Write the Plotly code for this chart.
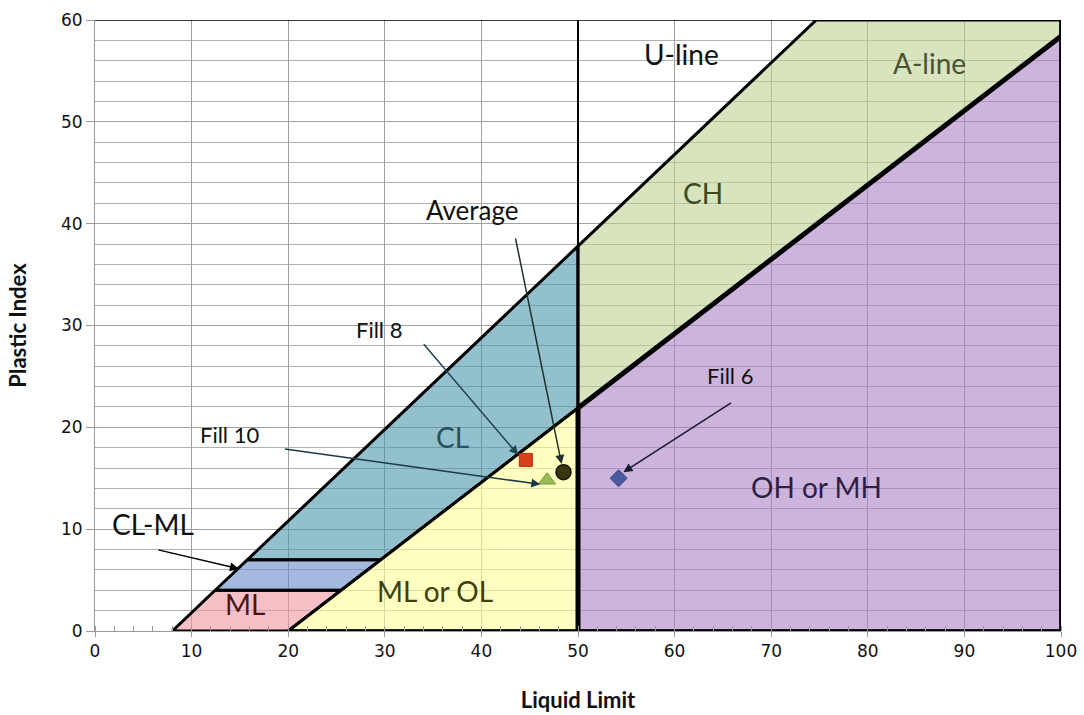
import plotly.graph_objects as go

# Casagrande plasticity chart boundaries
U_SLOPE, U_LL0 = 0.9, 8.0      # U-line: PI = 0.9 (LL - 8)
A_SLOPE, A_LL0 = 0.73, 20.0    # A-line: PI = 0.73 (LL - 20)
LL_SPLIT = 50.0                # low / high plasticity divide
PI_CLML_LOW, PI_CLML_HIGH = 4.0, 7.0
LL_MAX, PI_MAX = 100.0, 60.0

# Test results
sample_names = ["Fill 8", "Fill 10", "Average", "Fill 6"]
sample_ll = [44.6, 46.8, 48.5, 54.2]
sample_pi = [16.8, 14.8, 15.6, 15.0]


def u_pi(ll):
    return U_SLOPE * (ll - U_LL0)


def u_ll(pi):
    return U_LL0 + pi / U_SLOPE


def a_pi(ll):
    return A_SLOPE * (ll - A_LL0)


def a_ll(pi):
    return A_LL0 + pi / A_SLOPE


regions = [
    # name, LL vertices, PI vertices, fill
    ("ML", [u_ll(0), u_ll(PI_CLML_LOW), a_ll(PI_CLML_LOW), a_ll(0)],
     [0, PI_CLML_LOW, PI_CLML_LOW, 0], "rgba(240,150,160,0.6)"),
    ("CL-ML", [u_ll(PI_CLML_LOW), u_ll(PI_CLML_HIGH), a_ll(PI_CLML_HIGH), a_ll(PI_CLML_LOW)],
     [PI_CLML_LOW, PI_CLML_HIGH, PI_CLML_HIGH, PI_CLML_LOW], "rgba(102,138,200,0.6)"),
    ("CL", [u_ll(PI_CLML_HIGH), LL_SPLIT, LL_SPLIT, a_ll(PI_CLML_HIGH)],
     [PI_CLML_HIGH, u_pi(LL_SPLIT), a_pi(LL_SPLIT), PI_CLML_HIGH], "rgba(73,150,170,0.6)"),
    ("ML or OL", [a_ll(0), LL_SPLIT, LL_SPLIT],
     [0, a_pi(LL_SPLIT), 0], "rgba(255,255,150,0.6)"),
    ("CH", [LL_SPLIT, u_ll(PI_MAX), LL_MAX, LL_MAX, LL_SPLIT],
     [u_pi(LL_SPLIT), PI_MAX, PI_MAX, a_pi(LL_MAX), a_pi(LL_SPLIT)], "rgba(188,210,145,0.6)"),
    ("OH or MH", [LL_SPLIT, LL_SPLIT, LL_MAX, LL_MAX],
     [0, a_pi(LL_SPLIT), a_pi(LL_MAX), 0], "rgba(170,130,197,0.6)"),
]

fig = go.Figure()

for name, xs, ys, color in regions:
    fig.add_trace(go.Scatter(
        x=xs + [xs[0]], y=ys + [ys[0]], mode="lines", fill="toself",
        fillcolor=color, line=dict(color="black", width=3),
        hoverinfo="skip", showlegend=False, name=name))

# heavier boundary strokes
heavy = [
    ([LL_SPLIT, LL_MAX], [a_pi(LL_SPLIT), a_pi(LL_MAX)], 5),
    ([LL_SPLIT, LL_SPLIT], [0, a_pi(LL_SPLIT)], 5),
    ([a_ll(0), LL_MAX], [0, 0], 3.5),
    ([LL_MAX, LL_MAX], [0, PI_MAX], 3.5),
    ([LL_SPLIT, LL_SPLIT], [u_pi(LL_SPLIT), PI_MAX], 2),
    ([0, LL_MAX], [PI_MAX, PI_MAX], 1.5),
]
for xs, ys, w in heavy:
    fig.add_trace(go.Scatter(x=xs, y=ys, mode="lines",
                             line=dict(color="black", width=w),
                             hoverinfo="skip", showlegend=False))

marker_styles = {
    "Fill 8": dict(symbol="square", size=13, color="#d8401c",
                   line=dict(color="#b03010", width=1)),
    "Fill 10": dict(symbol="triangle-up", size=15, color="#9bbb59",
                    line=dict(color="#7a9a40", width=1)),
    "Average": dict(symbol="circle", size=15, color="#3a3410",
                    line=dict(color="#151505", width=1.5)),
    "Fill 6": dict(symbol="diamond", size=13, color="#4a5aa0",
                   line=dict(color="#34407a", width=1)),
}
for n, xv, yv in zip(sample_names, sample_ll, sample_pi):
    fig.add_trace(go.Scatter(x=[xv], y=[yv], mode="markers", name=n,
                             marker=marker_styles[n], showlegend=False))

LABEL_FONT = "Lato, 'Open Sans', sans-serif"

# zone labels
zone_labels = [
    ("CL", 37.0, 19.1, "#28505e"),
    ("CH", 62.9, 43.0, "#3e4a22"),
    ("U-line", 60.7, 56.7, "#111111"),
    ("A-line", 86.4, 55.8, "#4a5236"),
    ("OH or MH", 74.7, 14.1, "#2e1e44"),
    ("ML or OL", 35.2, 3.9, "#3e3e10"),
    ("ML", 15.5, 2.65, "#4a1414"),
]
for txt, xv, yv, c in zone_labels:
    fig.add_annotation(x=xv, y=yv, text=txt, showarrow=False,
                       font=dict(family=LABEL_FONT, size=28, color=c))

# callouts: label position, arrow tail, arrow head target
callouts = [
    ("Fill 8", 29.4, 29.6, 33.9, 28.3, 43.8, 17.3, "#1e4450"),
    ("Average", 39.1, 41.3, 43.5, 38.7, 48.3, 16.4, "#22302e"),
    ("Fill 10", 13.9, 19.3, 19.5, 17.9, 46.1, 14.4, "#1e3a44"),
    ("Fill 6", 65.7, 25.1, 66.0, 22.5, 54.7, 15.6, "#1a1a2a"),
    ("CL-ML", 6.0, 10.5, 6.4, 8.0, 14.9, 6.1, "#000000"),
]
for txt, tx, ty, ax, ay, hx, hy, c in callouts:
    size = 28 if txt == "CL-ML" else (26 if txt == "Average" else 22)
    fig.add_annotation(x=tx, y=ty, text=txt, showarrow=False,
                       font=dict(family=LABEL_FONT, size=size, color="#111111"))
    fig.add_annotation(x=hx, y=hy, ax=ax, ay=ay, xref="x", yref="y",
                       axref="x", ayref="y", text="", showarrow=True,
                       arrowhead=2, arrowsize=1.2, arrowwidth=1.5,
                       arrowcolor=c)

TICK_FONT = dict(family="DejaVu Sans, Verdana, sans-serif", size=17, color="#111111")

fig.update_layout(
    width=1084, height=715,
    margin=dict(l=95, r=23, t=20, b=84, autoexpand=False),
    paper_bgcolor="white", plot_bgcolor="white",
    xaxis=dict(
        range=[0, 100], dtick=10, tick0=0, automargin=False,
        showgrid=True, gridcolor="#a0a0a0", gridwidth=1,
        showline=True, linecolor="#9a9a9a", linewidth=1,
        ticks="outside", ticklen=5, tickcolor="#9a9a9a",
        tickfont=TICK_FONT, zeroline=False,
        minor=dict(dtick=2, ticks="inside", ticklen=5,
                   tickcolor="#9a9a9a", showgrid=False),
        title=dict(text="<b>Liquid Limit</b>", standoff=32,
                   font=dict(family=LABEL_FONT, size=22, color="#111111")),
    ),
    yaxis=dict(
        range=[0, 60], dtick=10, tick0=0, automargin=False,
        showgrid=True, gridcolor="#a0a0a0", gridwidth=1,
        showline=True, linecolor="#9a9a9a", linewidth=1,
        ticks="outside", ticklen=8, tickcolor="#9a9a9a",
        tickfont=TICK_FONT, zeroline=False,
        minor=dict(dtick=2, showgrid=True, gridcolor="#b0b0b0",
                   gridwidth=1, ticks=""),
        title=dict(text="<b>Plastic Index</b>", standoff=28,
                   font=dict(family=LABEL_FONT, size=22, color="#111111")),
    ),
)

fig.write_html("out.html")
